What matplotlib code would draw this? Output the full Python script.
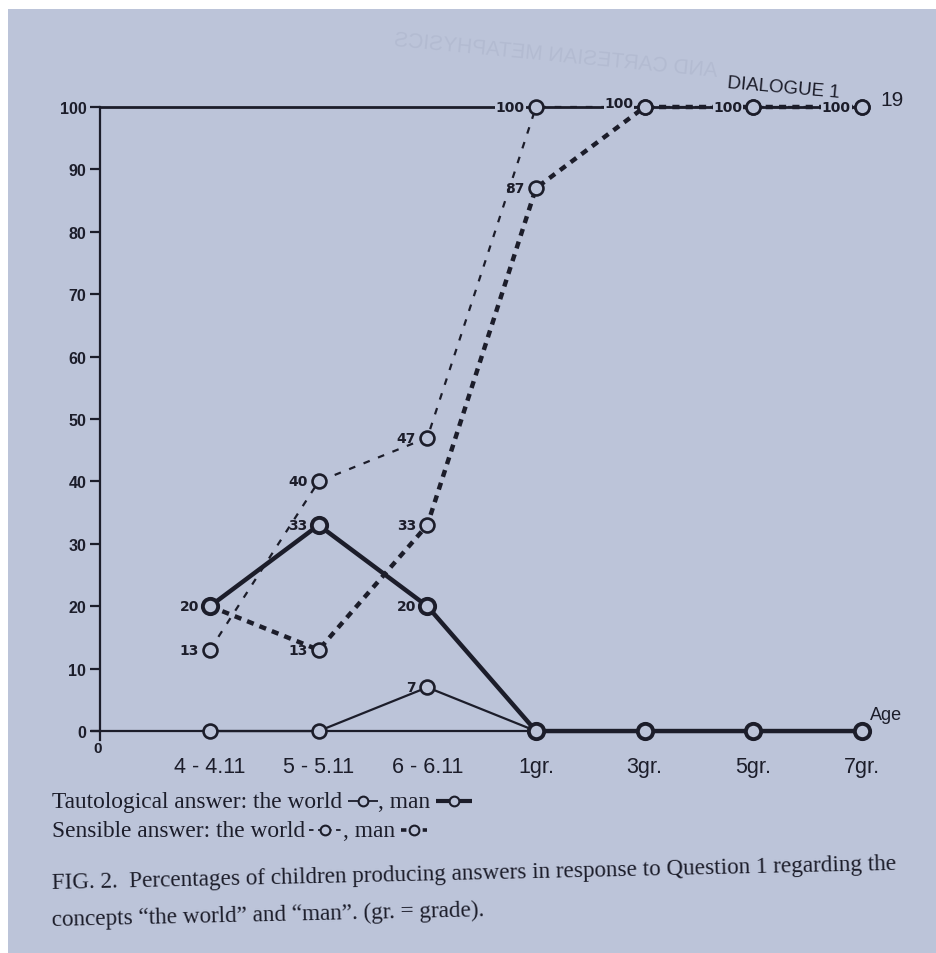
import numpy as np
import matplotlib
matplotlib.use("Agg")
import matplotlib.pyplot as plt
from matplotlib.patches import Rectangle, PathPatch
from matplotlib.textpath import TextPath
from matplotlib.font_manager import FontProperties
from matplotlib.transforms import Affine2D

W, H = 937, 954
PAGE = "#bcc4d9"
INK = "#1c1d2a"
GHOST = "#aab2c9"
NARROW = ["Liberation Sans Narrow", "Liberation Sans", "DejaVu Sans"]
SERIF = ["Liberation Serif", "DejaVu Serif"]

# data
ages = ["4 - 4.11", "5 - 5.11", "6 - 6.11", "1gr.", "3gr.", "5gr.", "7gr."]
taut_world = [0, 0, 7, 0, 0, 0, 0]
taut_man = [20, 33, 20, 0, 0, 0, 0]
sens_world = [13, 40, 47, 100, 100, 100, 100]
sens_man = [20, 13, 33, 87, 100, 100, 100]
# numbers printed beside the points (None = no number)
lab_taut_world = [None, None, 7, None, None, None, None]
lab_taut_man = [20, 33, 20, None, None, None, None]
lab_sens_world = [13, 40, 47, 100, 100, 100, 100]
lab_sens_man = [None, 13, 33, 87, None, None, None]

fig = plt.figure(figsize=(W / 100, H / 100), dpi=100)
fig.patch.set_facecolor("white")

# page background in pixel coords (y down)
bg = fig.add_axes([0, 0, 1, 1], zorder=0)
bg.set_xlim(0, W); bg.set_ylim(H, 0); bg.axis("off")
bg.add_patch(Rectangle((8, 10), W - 8, H - 10, color=PAGE, lw=0))

# bleed-through of the facing page's running head (mirrored)
tp = TextPath((0, 0), "AND CARTESIAN METAPHYSICS", size=21,
              prop=FontProperties(family="Liberation Sans"))
tr = Affine2D().scale(-1, -1).rotate_deg(5.5).translate(717, 78)
bg.add_patch(PathPatch(tr.transform_path(tp), color=GHOST, lw=0, alpha=0.45))

# running head
bg.text(727, 84, "DIALOGUE 1", rotation=-5, rotation_mode="anchor", ha="left", va="center",
        fontsize=13.5, family="Liberation Sans", color=INK)
bg.text(892, 101, "19", ha="center", va="center", fontsize=15, family="Liberation Sans", color=INK)

# main chart
x = np.arange(len(ages))
ax = fig.add_axes([85 / W, 1 - 741.4 / H, (862 - 85) / W, (741.4 - 108) / H], zorder=2)
ax.set_facecolor("none")
ax.set_xlim(-1.15, 6); ax.set_ylim(-1.5, 100)
yax = -1.01
ax.spines["right"].set_visible(False)
for s in ("left", "top", "bottom"):
    ax.spines[s].set_color(INK); ax.spines[s].set_linewidth(1.6)
ax.spines["top"].set_linewidth(2.0)
ax.spines["left"].set_position(("data", yax)); ax.spines["left"].set_bounds(-1.5, 100)
ax.spines["top"].set_bounds(yax, 6)
ax.spines["bottom"].set_position(("data", 0)); ax.spines["bottom"].set_bounds(-1.09, 6)

ax.set_yticks(range(0, 101, 10))
ax.tick_params(axis="y", direction="out", length=7, width=1.6, pad=3, colors=INK)
for t in ax.get_yticklabels():
    t.set_fontweight("bold"); t.set_fontsize(11.5); t.set_family(["Liberation Sans", "DejaVu Sans"])
ax.set_xticks(x, ages)
ax.tick_params(axis="x", length=0, pad=18, colors=INK)
for t in ax.get_xticklabels():
    t.set_fontsize(15.5); t.set_family(NARROW)

mk = dict(marker="o", mfc=PAGE, mec=INK, color=INK, clip_on=False)
ax.plot(x, sens_world, ls=(0, (3, 4)), lw=1.6, ms=10, mew=1.9, zorder=3, **mk)
ax.plot(x, sens_man, ls=(0, (1.6, 1.4)), lw=3.2, ms=10, mew=1.9, zorder=3, **mk)
ax.plot(x, taut_world, lw=1.6, ms=10, mew=1.9, zorder=4, **mk)
ax.plot(x, taut_man, lw=3.2, ms=11, mew=2.8, zorder=5, **mk)

for vals, labs in ((taut_world, lab_taut_world), (taut_man, lab_taut_man),
                   (sens_world, lab_sens_world), (sens_man, lab_sens_man)):
    for xi, v, lab in zip(x, vals, labs):
        if lab is None:
            continue
        dy = 3 if (xi == 4 and v == 100) else 0
        # numbers sitting on the 100 line interrupt it, as in the print
        box = dict(boxstyle="square,pad=0.05", fc=PAGE, ec="none") if v == 100 else None
        ax.annotate(str(lab), (xi, v), xytext=(-8, dy), textcoords="offset points",
                    ha="right", va="center", fontsize=10, fontweight="bold",
                    family="DejaVu Sans", color=INK, zorder=6, bbox=box)

ax.annotate("0", (yax, 0), xytext=(-2, -12), textcoords="offset points", ha="center",
            va="center", fontsize=11, fontweight="bold", family="Liberation Sans", color=INK)
ax.annotate("Age", (6, 0), xytext=(6, 12), textcoords="offset points", ha="left",
            va="center", fontsize=13, family=NARROW, color=INK)

# inline legend text with line samples
fig.canvas.draw()
rend = fig.canvas.get_renderer()


def right_px(t):
    return t.get_window_extent(rend).x1


def sample(x0, y, width, **kw):
    bg.plot([x0, x0 + width], [y, y], color=INK, solid_capstyle="butt", **kw)
    bg.plot([x0 + width / 2], [y], marker="o", ms=7, mfc=PAGE, mec=INK, mew=1.5, color=INK)


lg = dict(va="center", ha="left", fontsize=16.8, family=SERIF, color=INK)
y1, y2 = 803, 832
t = bg.text(52, y1, "Tautological answer: the world", **lg)
xa = right_px(t) + 6
sample(xa, y1 - 1, 30, lw=1.3)
t = bg.text(xa + 30, y1, ", man", **lg)
xb = right_px(t) + 6
sample(xb, y1 - 1, 36, lw=3.0)

t = bg.text(52, y2, "Sensible answer: the world", **lg)
xa = right_px(t) + 4
sample(xa, y2 - 1, 32, lw=1.3, ls=(0, (2.5, 2.5)))
t = bg.text(xa + 34, y2, ", man", **lg)
xb = right_px(t) + 6
sample(xb, y2 - 1, 26, lw=2.6, ls=(0, (1.5, 1.5)))

# caption
cap = dict(va="baseline", ha="left", fontsize=16.7, family=SERIF, color=INK,
           rotation=1.3, rotation_mode="anchor")
bg.text(52, 889, "FIG. 2.  Percentages of children producing answers in response to Question 1 regarding the", **cap)
bg.text(52, 926, "concepts \u201cthe world\u201d and \u201cman\u201d. (gr. = grade).", **cap)

fig.savefig("out.png", dpi=100, facecolor=fig.get_facecolor())
